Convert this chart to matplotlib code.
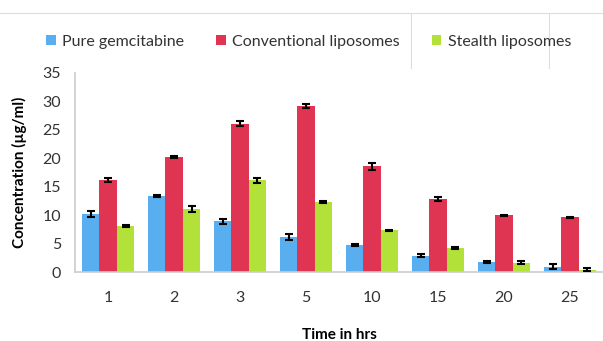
import matplotlib.pyplot as plt
import numpy as np

# Данные
times = ['1', '2', '3', '5', '10', '15', '20', '25']
series_names = ['Pure gemcitabine', 'Conventional liposomes', 'Stealth liposomes']

pure = [10.2, 13.3, 8.9, 6.2, 4.75, 2.9, 1.7, 0.95]
pure_err = [0.6, 0.2, 0.4, 0.5, 0.15, 0.2, 0.2, 0.45]

conventional = [16.2, 20.2, 26.1, 29.2, 18.6, 12.8, 10.0, 9.6]
conventional_err = [0.3, 0.2, 0.4, 0.3, 0.6, 0.3, 0.1, 0.15]

stealth = [8.1, 11.1, 16.1, 12.3, 7.3, 4.2, 1.65, 0.4]
stealth_err = [0.2, 0.5, 0.4, 0.2, 0.15, 0.15, 0.3, 0.3]

colors = ['#58AEEE', '#E03453', '#B2E23A']

plt.rcParams['font.family'] = ['Lato', 'DejaVu Sans']

fig = plt.figure(figsize=(6.03, 3.41), dpi=100)
ax = fig.add_axes([0.1244, 0.2023, 0.8756, 0.584])

x = np.arange(len(times))
width = 0.265
all_values = [pure, conventional, stealth]
all_errs = [pure_err, conventional_err, stealth_err]

for i, (vals, errs) in enumerate(zip(all_values, all_errs)):
    ax.bar(x + (i - 1) * width, vals, width, color=colors[i],
           label=series_names[i], zorder=2)
    ax.errorbar(x + (i - 1) * width, vals, yerr=errs, fmt='none',
                ecolor='black', elinewidth=1.5, capsize=3, capthick=1.5,
                zorder=3)

ax.set_xlim(-0.5, len(times) - 0.5)
ax.set_ylim(0, 35)
ax.set_yticks(range(0, 36, 5))
ax.set_xticks(x)
ax.set_xticklabels(times)
ax.tick_params(length=0, labelsize=11.5, colors='#333333')
ax.tick_params(axis='x', pad=14)
ax.tick_params(axis='y', pad=10)

for s in ['top', 'right']:
    ax.spines[s].set_visible(False)
for s in ['left', 'bottom']:
    ax.spines[s].set_color('#cccccc')
    ax.spines[s].set_linewidth(1.2)

ax.set_xlabel('Time in hrs', fontsize=11, fontweight='bold', labelpad=16)
ax.set_ylabel('Concentration (µg/ml)', fontsize=11, fontweight='bold', labelpad=11)

fig.legend(loc='center', bbox_to_anchor=(0.512, 0.877), ncol=3, frameon=False,
           fontsize=11.5, handlelength=0.6, handleheight=0.6,
           columnspacing=2.0, handletextpad=0.4, labelcolor='#333333')

# тонкие линии-артефакты вверху, как на оригинале
fig.add_artist(plt.Line2D([0, 1], [1 - 13 / 341] * 2, color='#dddddd', lw=0.8))
fig.add_artist(plt.Line2D([411 / 603] * 2, [1 - 13 / 341, 1 - 68 / 341], color='#dddddd', lw=0.8))
fig.add_artist(plt.Line2D([549 / 603] * 2, [1 - 13 / 341, 1 - 68 / 341], color='#dddddd', lw=0.8))

plt.savefig('out.png', dpi=100)
